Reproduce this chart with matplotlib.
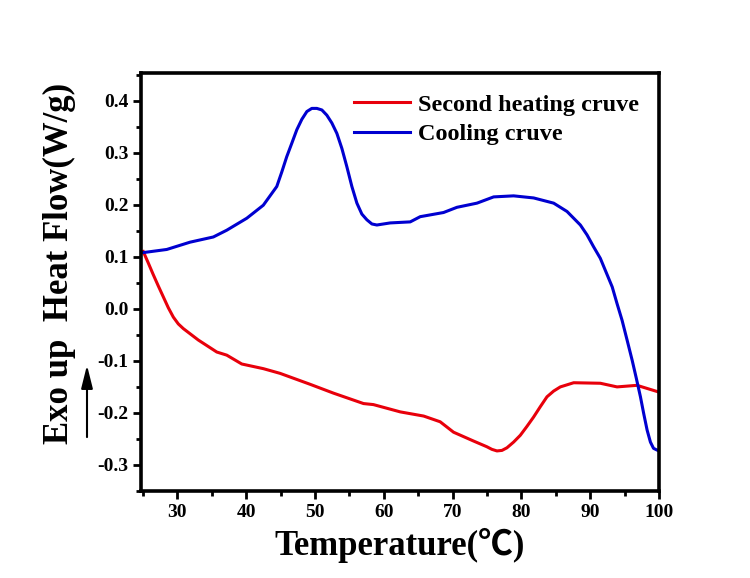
import matplotlib
matplotlib.use("Agg")
import matplotlib.pyplot as plt
from matplotlib.patches import FancyArrowPatch
from matplotlib.ticker import MultipleLocator

plt.rcParams['font.family'] = ['Liberation Serif', 'Noto Sans CJK SC', 'DejaVu Sans']
plt.rcParams['font.weight'] = 'bold'
plt.rcParams['axes.unicode_minus'] = False

# second heating curve (red)
heat_T = [25.06, 25.79, 26.5, 27.24, 27.97, 28.7, 29.43, 30.15, 30.88, 33.06,
          35.74, 37.19, 39.37, 42.52, 44.94, 49.3, 52.7, 57.06, 58.5, 62.4,
          65.8, 68.2, 70.14, 73.05, 74.99, 75.72, 76.45, 77.18, 77.9, 78.87,
          79.84, 80.8, 81.77, 82.75, 83.72, 84.69, 85.66, 87.6, 91.47, 93.9,
          96.8, 100.0]
heat_Q = [0.110, 0.088, 0.066, 0.044, 0.023, 0.002, -0.016, -0.029, -0.038, -0.060,
          -0.083, -0.089, -0.106, -0.115, -0.124, -0.145, -0.162, -0.182, -0.184, -0.198,
          -0.206, -0.217, -0.237, -0.254, -0.265, -0.270, -0.273, -0.272, -0.267, -0.256,
          -0.243, -0.226, -0.208, -0.188, -0.169, -0.158, -0.150, -0.142, -0.143, -0.150,
          -0.147, -0.160]

# cooling curve (blue)
cool_T = [25.06, 28.47, 31.85, 35.24, 37.19, 40.1, 42.5, 44.46, 45.19, 45.9,
          46.64, 47.37, 48.1, 48.83, 49.55, 50.28, 51.01, 51.73, 52.46, 53.19,
          53.92, 54.64, 55.37, 56.1, 56.82, 57.55, 58.28, 59.0, 60.94, 63.85,
          65.3, 68.69, 70.64, 73.55, 75.97, 78.87, 81.78, 84.69, 86.63, 88.57,
          89.54, 90.5, 91.47, 93.2, 93.9, 94.63, 95.36, 96.1, 96.71, 97.3,
          97.77, 98.27, 98.75, 99.2, 99.97]
cool_Q = [0.108, 0.114, 0.128, 0.138, 0.151, 0.174, 0.199, 0.235, 0.263, 0.292,
          0.318, 0.344, 0.364, 0.379, 0.385, 0.385, 0.382, 0.372, 0.357, 0.337,
          0.308, 0.273, 0.235, 0.203, 0.182, 0.171, 0.163, 0.161, 0.165, 0.167,
          0.177, 0.185, 0.195, 0.203, 0.215, 0.217, 0.213, 0.203, 0.187, 0.161,
          0.142, 0.119, 0.097, 0.042, 0.010, -0.022, -0.060, -0.099, -0.134, -0.169,
          -0.201, -0.233, -0.256, -0.268, -0.273]

fig = plt.figure(figsize=(7.5, 5.78), dpi=100)
ax = fig.add_axes([0.188, 0.1505, 0.6907, 0.7232])

ax.plot(heat_T, heat_Q, color='#e8000b', lw=2.2, label='Second heating cruve')
ax.plot(cool_T, cool_Q, color='#0000d0', lw=2.2, label='Cooling cruve')

ax.set_xlim(24.73, 100)
ax.set_ylim(-0.35, 0.453)
ax.xaxis.set_major_locator(MultipleLocator(10))
ax.xaxis.set_minor_locator(MultipleLocator(5))
ax.yaxis.set_major_locator(MultipleLocator(0.1))
ax.yaxis.set_minor_locator(MultipleLocator(0.05))
ax.tick_params(which='major', direction='out', length=6, width=2, labelsize=14, pad=3)
ax.tick_params(which='minor', direction='out', length=3.5, width=2)
ax.tick_params(top=False, right=False)
for lab in ax.get_xticklabels() + ax.get_yticklabels():
    lab.set_fontweight('bold')
for s in ax.spines.values():
    s.set_linewidth(2.6)

ax.set_xlabel('Temperature(℃)', fontsize=25, fontweight='bold', labelpad=5)
fig.text(0.079, 0.545, 'Exo up  Heat Flow(W/g)', rotation=90, fontsize=25,
         fontweight='bold', ha='center', va='center')
fig.add_artist(FancyArrowPatch(
    (0.116, 0.239), (0.116, 0.373), transform=fig.transFigure,
    arrowstyle='-|>,head_length=14,head_width=3.5', lw=1.5, color='black'))

ax.legend(loc='upper left', bbox_to_anchor=(0.412, 0.95), frameon=False,
          handlelength=2.3, handletextpad=0.3, labelspacing=0.3,
          borderpad=0, borderaxespad=0, prop={'weight': 'bold', 'size': 17.5})

fig.savefig('out.png', dpi=100, facecolor='white')
